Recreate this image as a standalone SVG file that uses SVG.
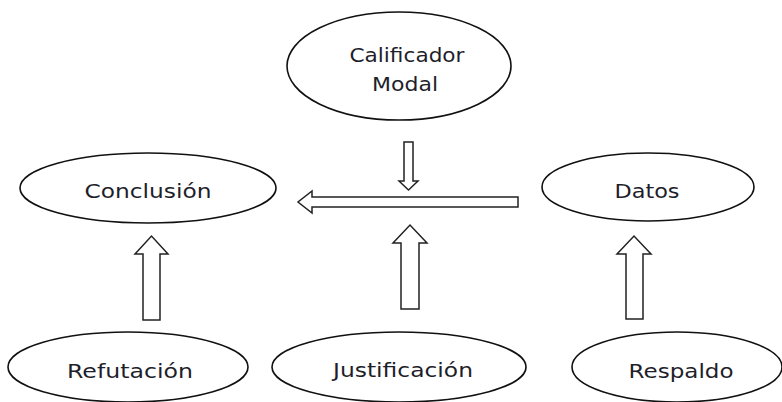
<svg xmlns="http://www.w3.org/2000/svg" width="782" height="402" viewBox="0 0 782 402">
<style>
.node ellipse{fill:#fff;stroke:#111;stroke-width:1.6}
.node text{font-family:"DejaVu Sans","Liberation Sans",sans-serif;font-size:20px;fill:#1e1e2a;text-anchor:middle}
.arrow{fill:#fff;stroke:#222;stroke-width:1.5;stroke-linejoin:miter}
</style>
<rect width="782" height="402" fill="#fff"/>
<g id="calificador" class="node">
<ellipse cx="399" cy="66" rx="112" ry="54"/>
<text x="407" y="62" textLength="115" lengthAdjust="spacingAndGlyphs">Calificador</text>
<text x="405" y="91" textLength="66" lengthAdjust="spacingAndGlyphs">Modal</text>
</g>
<g id="conclusion" class="node">
<ellipse cx="148" cy="188" rx="128" ry="35"/>
<text x="148" y="198" textLength="127" lengthAdjust="spacingAndGlyphs">Conclusión</text>
</g>
<g id="datos" class="node">
<ellipse cx="648" cy="187" rx="106" ry="34"/>
<text x="647" y="198" textLength="65" lengthAdjust="spacingAndGlyphs">Datos</text>
</g>
<g id="refutacion" class="node">
<ellipse cx="128" cy="367" rx="120" ry="35"/>
<text x="130" y="378" textLength="126" lengthAdjust="spacingAndGlyphs">Refutación</text>
</g>
<g id="justificacion" class="node">
<ellipse cx="399" cy="367" rx="127" ry="35"/>
<text x="403" y="377" textLength="140" lengthAdjust="spacingAndGlyphs">Justificación</text>
</g>
<g id="respaldo" class="node">
<ellipse cx="677" cy="367" rx="105" ry="35"/>
<text x="681" y="378" textLength="105" lengthAdjust="spacingAndGlyphs">Respaldo</text>
</g>
<g id="connectors">
<polygon class="arrow" points="404,142 413,142 413,181 418,181 408.5,190 399,181 404,181"/>
<polygon class="arrow" points="518,197 518,207 312,207 312,213 298,202 312,191 312,197"/>
<polygon class="arrow" points="143,320 160,320 160,254 168,254 151.5,236 135,254 143,254"/>
<polygon class="arrow" points="401,309 419,309 419,243 427,243 410,225 393,243 401,243"/>
<polygon class="arrow" points="626,319 643,319 643,254 651,254 634,236 617,254 626,254"/>
</g>
</svg>
